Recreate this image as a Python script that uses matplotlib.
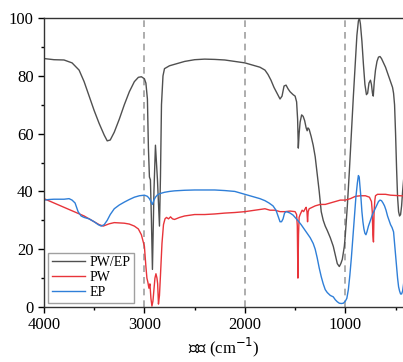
import matplotlib
matplotlib.use("Agg")
import matplotlib.pyplot as plt
from matplotlib.ticker import MultipleLocator

# PW/EP (gray)
pwep_x = [4000, 3900, 3800, 3720, 3650, 3600, 3550, 3500, 3450, 3400, 3370, 3340, 3300,
          3250, 3200, 3150, 3100, 3060, 3030, 3000, 2985, 2970, 2960, 2950, 2940, 2930,
          2920, 2905, 2890, 2880, 2870, 2860, 2850, 2840, 2830, 2815, 2800, 2750, 2700,
          2600, 2500, 2400, 2300, 2200, 2100, 2000, 1900, 1850, 1800, 1770, 1740, 1710,
          1680, 1650, 1630, 1610, 1590, 1570, 1550, 1520, 1500, 1485, 1475, 1468, 1460,
          1450, 1435, 1420, 1405, 1390, 1380, 1372, 1360, 1340, 1320, 1300, 1280, 1260,
          1240, 1220, 1200, 1180, 1150, 1120, 1100, 1080, 1060, 1045, 1030, 1010, 1000,
          980, 960, 940, 920, 900, 885, 870, 860, 850, 835, 820, 805, 790, 778, 765, 750,
          740, 730, 722, 712, 700, 685, 670, 655, 640, 620, 600, 580, 560, 545, 530, 520,
          510, 500, 490, 480, 470, 460, 450, 440, 430, 420, 410]
pwep_y = [86, 85.6, 85.5, 84.5, 82, 78, 73, 68, 63.5, 59.5, 57.5, 57.8, 60.5,
          65, 70, 74.5, 78, 79.5, 79.7, 79, 77.5, 72, 55, 45, 44, 30,
          13, 40, 56, 50, 44, 36, 28, 45, 70, 80, 82.5, 83.5, 84,
          85, 85.6, 85.8, 85.7, 85.5, 85, 84.5, 83.5, 83, 82, 80.5, 78.5, 76,
          74, 72, 73, 76.5, 76.8, 75.5, 74.5, 73.5, 73, 71, 65, 55, 60,
          64, 66.5, 66, 64.5, 62, 61, 62, 61.5, 59, 56, 52, 46, 40,
          33, 30, 28, 26.5, 24, 21, 18, 15, 14, 15, 16.5, 21, 25,
          35, 47, 60, 73, 85, 94, 99, 100, 98, 92, 84, 77, 73.5, 74, 77.5, 78.5,
          77, 74, 73, 78, 82, 85, 86.5, 86.7, 86, 84.5, 83, 81, 79, 77.5, 76, 74,
          70, 60, 48, 38, 33, 31.5, 32, 35, 40, 44, 48]

# PW (red)
pw_x = [4000, 3900, 3800, 3700, 3600, 3500, 3450, 3410, 3350, 3300, 3200, 3150, 3100,
        3060, 3030, 3000, 2985, 2975, 2965, 2955, 2945, 2935, 2925, 2915, 2905, 2895,
        2885, 2875, 2868, 2860, 2850, 2840, 2825, 2810, 2795, 2780, 2760, 2740, 2720,
        2700, 2650, 2600, 2500, 2400, 2300, 2200, 2100, 2000, 1900, 1800, 1750, 1700,
        1650, 1600, 1550, 1500, 1485, 1478, 1472, 1466, 1460, 1450, 1430, 1415, 1400,
        1390, 1382, 1376, 1370, 1360, 1330, 1300, 1250, 1200, 1150, 1100, 1050, 1000,
        950, 900, 850, 800, 760, 740, 732, 726, 720, 714, 706, 700, 680, 650, 600, 550,
        500, 450, 410]
pw_y = [37.5, 36, 34.5, 33, 31.5, 29.5, 28.5, 28, 28.8, 29.2, 29, 28.7, 28,
        27, 25, 21, 14, 10, 8.5, 6.5, 8, 3, 0.3, 2, 6, 10,
        11.5, 10, 8, 1, 4, 11, 22, 28.5, 30.5, 31, 30.5, 31.2, 30.5,
        30.3, 31, 31.5, 32, 32, 32.2, 32.5, 32.7, 33, 33.5, 34, 33.5, 33.5,
        33, 33, 33.2, 33, 32, 28, 10, 25, 31, 32, 33.5, 33, 34,
        34.5, 33, 29.5, 33, 34, 34.5, 35, 35.5, 35.5, 36, 36.5, 37, 37,
        37.5, 38.3, 38.5, 38.5, 38, 36.5, 33, 25, 22.5, 33, 37, 38.5, 39, 39, 39, 38.7,
        38.6, 38.5, 38.4]

# EP (blue)
ep_x = [4000, 4000, 3950, 3900, 3800, 3750, 3720, 3690, 3660, 3630, 3600, 3550, 3500,
        3460, 3430, 3400, 3370, 3340, 3300, 3250, 3200, 3150, 3100, 3050, 3000, 2970,
        2950, 2935, 2920, 2905, 2890, 2870, 2850, 2800, 2750, 2700, 2600, 2500, 2400,
        2300, 2200, 2100, 2000, 1900, 1850, 1800, 1760, 1720, 1690, 1665, 1650, 1635,
        1620, 1605, 1590, 1570, 1550, 1520, 1500, 1470, 1440, 1410, 1380, 1350, 1320,
        1300, 1280, 1260, 1240, 1220, 1200, 1180, 1150, 1120, 1100, 1080, 1060, 1040,
        1020, 1000, 985, 970, 955, 940, 925, 910, 895, 880, 870, 862, 855, 845, 835, 825,
        815, 805, 795, 785, 770, 750, 730, 710, 690, 670, 655, 640, 625, 610, 595, 580,
        565, 550, 535, 520, 510, 500, 490, 480, 470, 460, 450, 440, 430, 420, 410]
ep_y = [0, 37, 37.2, 37.3, 37.3, 37.5, 37, 36, 33, 31.5, 31, 30.5, 29.5,
        28.5, 28, 28.5, 30, 32, 34, 35.3, 36.3, 37.2, 38, 38.5, 38.7, 38.3,
        37.5, 36.5, 35.5, 37, 38, 38.8, 39.2, 39.7, 40, 40.2, 40.4, 40.5, 40.5,
        40.5, 40.3, 40, 39, 38, 37.5, 36.8, 36, 35, 33.5, 31, 29.5, 29.5,
        30.5, 32.5, 33, 32.8, 32.5, 31.8, 31, 29.8, 28.5, 27, 25.5, 24, 22,
        20, 17, 13.5, 10.5, 8, 6, 5, 4, 3.5, 2.5, 1.8, 1.3, 1.2,
        1.3, 2, 3, 6, 11, 17, 24, 31, 38, 43, 45.5, 45, 42, 38, 33, 29.5,
        27, 25.5, 25, 26, 28, 30, 32, 33.5, 35, 36.5, 37, 36.8, 36, 35, 33.5, 31.5,
        30, 28.5, 27.5, 26, 22, 18, 14, 10, 7, 5.5, 4.5, 4.5, 5.5, 8, 12]

dash_x = [3000, 2000, 1000]

plt.rcParams['font.family'] = ['Liberation Serif', 'Noto Sans CJK SC']
plt.rcParams['font.size'] = 12

fig = plt.figure(figsize=(4.03, 3.62), dpi=100)
ax = fig.add_axes([0.109, 0.152, 0.895, 0.798])

for xv in dash_x:
    ax.axvline(xv, color='#a0a0a0', linestyle=(0, (4, 3)), linewidth=1.2, zorder=1)

ax.plot(pwep_x, pwep_y, color='#505050', linewidth=1.0, label='PW/EP')
ax.plot(pw_x, pw_y, color='#e8343a', linewidth=1.0, label='PW')
ax.plot(ep_x, ep_y, color='#2f7fd8', linewidth=1.0, label='EP')

ax.set_xlim(4000, 410)
ax.set_ylim(0, 100)
ax.xaxis.set_major_locator(MultipleLocator(1000))
ax.xaxis.set_minor_locator(MultipleLocator(500))
ax.yaxis.set_major_locator(MultipleLocator(20))
ax.yaxis.set_minor_locator(MultipleLocator(10))
ax.tick_params(which='major', direction='out', length=4, width=1, labelsize=12)
ax.tick_params(which='minor', direction='out', length=2.5, width=1)
for s in ['left', 'bottom', 'top']:
    ax.spines[s].set_color('#333333')
    ax.spines[s].set_linewidth(1.0)
ax.spines['right'].set_visible(False)

ax.set_xlabel('波数 (cm$^{-1}$)', fontsize=12, labelpad=2)

leg = ax.legend(loc='lower left', fontsize=10, frameon=True, fancybox=False,
                handlelength=2.4, borderpad=0.25, labelspacing=0.15,
                handletextpad=0.35, borderaxespad=0.3)
leg.get_frame().set_edgecolor('#888888')
leg.get_frame().set_linewidth(1.0)

fig.savefig('out.png', dpi=100)
